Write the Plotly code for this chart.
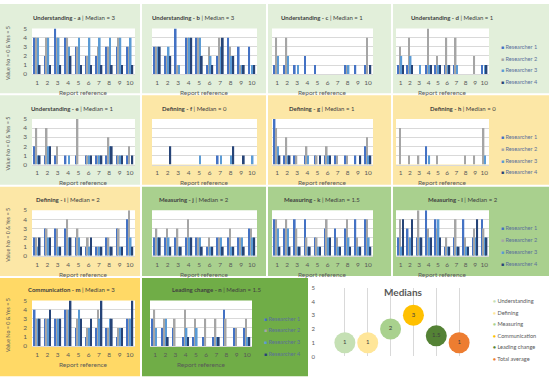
import plotly.graph_objects as go

W, H = 550, 386

reports = list(range(1, 11))
researchers = ["Researcher 1", "Researcher 2", "Researcher 3", "Researcher 4"]

panel_titles = ["Understanding - a", "Understanding - b", "Understanding - c", "Understanding - d",
                "Understanding - e", "Defining - f", "Defining - g", "Defining - h",
                "Defining - i", "Measuring - j", "Measuring - k", "Measuring - l",
                "Communication - m", "Leading change - n"]
panel_medians = [3, 3, 1, 1, 1, 0, 1, 0, 2, 2, 1.5, 2, 3, 1.5]

# one row per report: [Researcher 1, Researcher 2, Researcher 3, Researcher 4]
understanding_a = [[4,4,4,1],[2,4,4,1],[5,4,4,1],[4,4,3,2],[3,3,4,1],[2,2,4,1],[2,3,4,1],[3,3,4,1],[3,4,4,1],[3,3,4,1]]
understanding_b = [[3,3,3,3],[2,2,3,2],[5,1,1,0],[4,4,4,4],[4,4,4,2],[1,3,2,1],[2,4,3,4],[4,3,2,2],[3,1,1,1],[3,0,1,1]]
understanding_c = [[1,4,2,0],[1,4,2,0],[1,0,1,0],[2,0,0,0],[1,0,0,0],[0,0,0,0],[0,0,0,0],[1,1,1,0],[1,0,0,0],[1,4,0,1]]
understanding_d = [[1,3,2,1],[1,4,2,1],[0,0,1,0],[1,5,1,1],[1,2,1,1],[1,4,1,1],[1,4,1,0],[0,0,0,0],[0,2,0,0],[1,0,1,1]]
understanding_e = [[2,4,1,1],[1,4,2,2],[1,2,0,0],[1,0,1,0],[1,5,0,0],[1,1,1,1],[1,1,1,1],[1,3,2,2],[1,1,1,1],[1,2,0,1]]
defining_f = [[0,0,0,0],[0,0,0,2],[0,0,0,0],[0,0,0,0],[0,0,1,0],[0,0,0,0],[1,0,1,0],[0,0,1,2],[0,0,0,1],[0,0,1,0]]
defining_g = [[5,4,2,1],[1,3,1,1],[1,1,0,0],[1,2,1,0],[1,1,0,1],[1,2,1,1],[1,1,0,0],[1,1,0,0],[1,0,0,1],[2,3,1,1]]
defining_h = [[0,4,0,0],[0,1,0,0],[0,1,0,0],[2,0,1,0],[0,1,0,0],[0,0,0,0],[0,0,0,0],[0,1,0,0],[0,1,0,0],[0,4,1,0]]
defining_i = [[2,2,1,2],[3,3,2,2],[3,3,1,1],[3,4,2,2],[2,3,2,1],[1,2,1,2],[1,1,1,1],[2,2,1,1],[3,3,1,1],[4,5,2,1]]
measuring_j = [[2,3,2,2],[2,3,2,1],[2,3,1,1],[2,4,2,2],[2,2,2,1],[1,2,1,1],[2,2,2,1],[2,3,1,1],[2,2,2,1],[3,3,2,2]]
measuring_k = [[4,4,3,1],[3,4,3,1],[4,3,1,1],[4,2,1,1],[2,2,1,1],[3,4,2,2],[3,2,1,1],[3,4,2,1],[4,2,1,1],[4,4,2,1]]
measuring_l = [[2,4,1,4],[3,2,2,4],[2,5,2,2],[5,3,2,2],[4,3,4,2],[1,2,1,1],[2,4,1,1],[4,2,1,1],[2,3,2,4],[4,3,2,2]]
communication_m = [[4,3,3,3],[3,3,3,4],[3,3,3,3],[4,4,4,5],[2,3,4,3],[1,2,2,3],[2,4,3,5],[2,2,3,3],[1,2,2,2],[3,3,3,5]]
leading_change_n = [[3,4,2,0],[2,3,3,1],[2,3,0,0],[1,4,2,1],[1,3,2,0],[1,3,0,0],[1,3,1,1],[4,3,0,0],[2,2,0,0],[2,3,1,1]]

panel_data = [understanding_a, understanding_b, understanding_c, understanding_d,
              understanding_e, defining_f, defining_g, defining_h,
              defining_i, measuring_j, measuring_k, measuring_l,
              communication_m, leading_change_n]

median_categories = ["Understanding", "Defining", "Measuring", "Communication", "Leading change", "Total average"]
median_values = [1, 1, 2, 3, 1.5, 1]

# ---------------- styling / layout ----------------
researcher_colors = ["#4472C4", "#A5A5A5", "#5B9BD5", "#264478"]
median_colors = ["#C5E0B4", "#FFE699", "#A9D18E", "#FFC000", "#548235", "#ED7D31"]
LGREEN, LYELLOW, MGREEN, ORANGEY, DGREEN = "#E2EFDA", "#FCE7A6", "#A9D08E", "#FFD966", "#70AD47"
FONT = "Lato"
TXT = "#595959"

def fx(x):
    return x / W

def fy(y):
    return 1 - y / H

row_tops = [0, 92, 185, 277]
row_panel_y = [(0, 91), (93, 184), (186, 277), (279, 379)]
col_panel_x = [(0, 140), (142, 266), (268, 391), (393, 549)]
col_plot_x = [(32, 135), (152, 257), (272, 373), (396, 489)]

# row, col, bg, show y labels, legend, title centre x
panel_style = [
    (0, 0, LGREEN, True, False, 74), (0, 1, LGREEN, False, False, 193), (0, 2, LGREEN, False, False, 322), (0, 3, LGREEN, False, True, 452),
    (1, 0, LGREEN, True, False, 72), (1, 1, LYELLOW, False, False, 194), (1, 2, LYELLOW, False, False, 322), (1, 3, LYELLOW, False, True, 463),
    (2, 0, LYELLOW, True, False, 68), (2, 1, MGREEN, False, False, 194), (2, 2, MGREEN, False, False, 322), (2, 3, MGREEN, False, True, 463),
    (3, 0, ORANGEY, True, False, 71), (3, 1, DGREEN, False, True, 217),
]

fig = go.Figure()
shapes = []
annotations = []
layout = {}

for i, (r, c, bg, ylab, leg, tcx) in enumerate(panel_style):
    k = i + 1
    xa = "x" if k == 1 else f"x{k}"
    ya = "y" if k == 1 else f"y{k}"
    xkey = "xaxis" if k == 1 else f"xaxis{k}"
    ykey = "yaxis" if k == 1 else f"yaxis{k}"
    top = row_tops[r]
    if r == 3 and c == 1:
        px0, px1 = 142, 308
        plx0, plx1 = 150, 252
    else:
        px0, px1 = col_panel_x[c]
        plx0, plx1 = col_plot_x[c]
    py0, py1 = row_panel_y[r]
    ply0, ply1 = top + 25, top + 71.5

    shapes.append(dict(type="rect", xref="paper", yref="paper", x0=fx(px0), x1=fx(px1), y0=fy(py1), y1=fy(py0),
                       fillcolor=bg, line=dict(width=0), layer="below"))
    shapes.append(dict(type="rect", xref="paper", yref="paper", x0=fx(plx0), x1=fx(plx1), y0=fy(ply1), y1=fy(ply0),
                       fillcolor="white", line=dict(width=0), layer="below"))

    data = panel_data[i]
    for j in range(4):
        fig.add_trace(go.Bar(x=reports, y=[row[j] for row in data], name=researchers[j],
                             marker=dict(color=researcher_colors[j], line=dict(width=0)),
                             xaxis=xa, yaxis=ya, showlegend=False))

    layout[xkey] = dict(domain=[fx(plx0), fx(plx1)], anchor=ya, range=[0.5, 10.5], tickvals=reports,
                        ticktext=[str(v) for v in reports], showgrid=False, zeroline=False,
                        showline=True, linecolor="#D9D9D9", linewidth=1, ticks="",
                        tickfont=dict(family=FONT, size=6.5, color=TXT), ticklabelstandoff=2, fixedrange=True)
    layout[ykey] = dict(domain=[fy(ply1), fy(ply0)], anchor=xa, range=[0, 5], dtick=1, showgrid=True,
                        gridcolor="#D9D9D9", gridwidth=1, zeroline=False, showline=False, ticks="",
                        showticklabels=ylab, tickfont=dict(family=FONT, size=6.5, color=TXT),
                        ticklabelstandoff=4, fixedrange=True)

    annotations.append(dict(xref="paper", yref="paper", x=fx(tcx), y=fy(top + 14), xanchor="center", yanchor="middle",
                            text=f"<b>{panel_titles[i]}</b> | Median = {panel_medians[i]}", showarrow=False,
                            font=dict(family=FONT, size=6, color="#404040")))
    annotations.append(dict(xref="paper", yref="paper", x=fx((plx0 + plx1) / 2), y=fy(top + 90), xanchor="center",
                            yanchor="middle", text="Report reference", showarrow=False,
                            font=dict(family=FONT, size=6.5, color=TXT)))
    if ylab:
        annotations.append(dict(xref="paper", yref="paper", x=fx(8), y=fy(top + 50), xanchor="center",
                                yanchor="middle", text="Value No = 0 & Yes = 5", textangle=-90, showarrow=False,
                                font=dict(family=FONT, size=5.4, color=TXT)))
    if leg:
        lx = 262 if (r == 3) else 499
        for j in range(4):
            annotations.append(dict(xref="paper", yref="paper", x=fx(lx), y=fy(top + 43 + 12 * j), xanchor="left",
                                    yanchor="middle", showarrow=False,
                                    text=f"<span style='color:{researcher_colors[j]};font-size:5px'>■</span> {researchers[j]}",
                                    font=dict(family=FONT, size=5.6, color="#5B6F9A")))

# ---------------- medians bubble chart ----------------
fig.add_trace(go.Scatter(x=list(range(1, len(median_values) + 1)), y=median_values, mode="markers+text",
                         text=[str(v) for v in median_values], textposition="middle center",
                         textfont=dict(family=FONT, size=6, color="#404040"),
                         marker=dict(size=21, color=median_colors, line=dict(width=0)),
                         xaxis="x15", yaxis="y15", showlegend=False))
layout["xaxis15"] = dict(domain=[fx(322), fx(482)], anchor="y15", range=[0, 7], dtick=1, showgrid=True,
                         gridcolor="#D9D9D9", gridwidth=1, zeroline=False, showline=False,
                         showticklabels=False, ticks="", fixedrange=True)
layout["yaxis15"] = dict(domain=[fy(359), fy(289)], anchor="x15", range=[0, 5], dtick=1, showgrid=False,
                         zeroline=False, showline=False, ticks="", tickfont=dict(family=FONT, size=6, color=TXT),
                         ticklabelstandoff=6, fixedrange=True)
annotations.append(dict(xref="paper", yref="paper", x=fx(403), y=fy(293), xanchor="center", yanchor="middle",
                        text="<b>Medians</b>", showarrow=False, font=dict(family=FONT, size=10, color=TXT)))
for j, name in enumerate(median_categories):
    annotations.append(dict(xref="paper", yref="paper", x=fx(491), y=fy(302 + 11.8 * j), xanchor="left",
                            yanchor="middle", showarrow=False,
                            text=f"<span style='color:{median_colors[j]};font-size:5px'>●</span> {name}",
                            font=dict(family=FONT, size=5.6, color=TXT)))

fig.update_layout(width=W, height=H, margin=dict(l=0, r=0, t=0, b=0), paper_bgcolor="white",
                  plot_bgcolor="rgba(0,0,0,0)", barmode="group", bargap=0.35, bargroupgap=0,
                  shapes=shapes, annotations=annotations, showlegend=False, **layout)
fig.write_html("out.html", config={"displayModeBar": False},
               post_script="document.body.style.margin='0';document.body.style.overflow='hidden';")
